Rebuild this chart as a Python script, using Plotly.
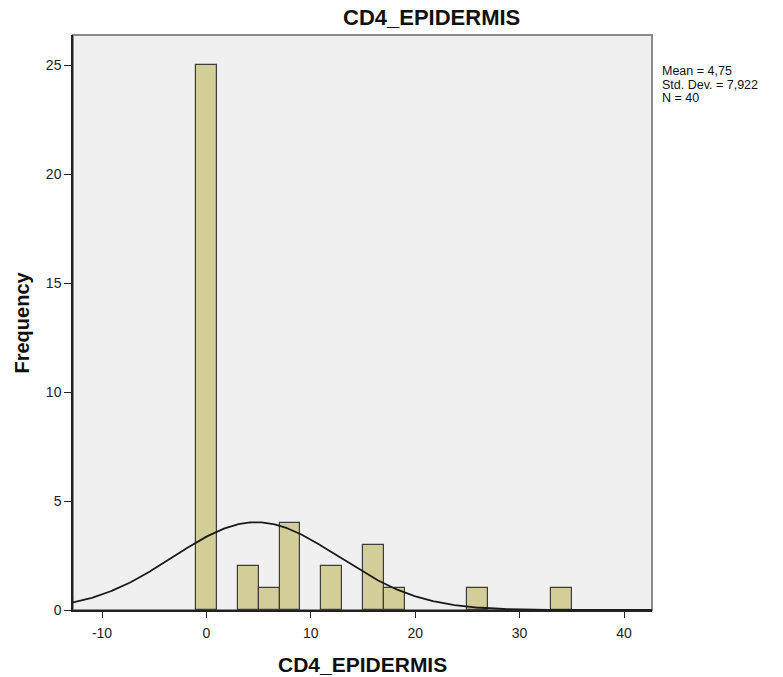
import numpy as np
import plotly.graph_objects as go

# Histogram bins (centers, width 2) and counts
bin_centers = [0, 4, 6, 8, 12, 16, 18, 26, 34]
counts = [25, 2, 1, 4, 2, 3, 1, 1, 1]
bin_width = 2

# Summary statistics shown in the chart
mean_text = "4,75"
std_text = "7,922"
mean_val = 4.75
std_val = 7.922
n_val = 40

x_ticks = [-10, 0, 10, 20, 30, 40]
x_ticktext = ["-10", "0", "10", "20", "30", "40"]
y_ticks = [0, 5, 10, 15, 20, 25]

x_range = [-12.78, 42.68]
y_range = [0, 26.4]

# Fitted normal curve (scaled to counts)
xs = np.linspace(x_range[0], x_range[1], 400)
ys = n_val * bin_width / (std_val * np.sqrt(2 * np.pi)) * np.exp(-0.5 * ((xs - mean_val) / std_val) ** 2)

fam = "Liberation Sans, Arial, sans-serif"

L, R, T, B = 73, 131, 35, 67
W, H = 783, 677
pw = W - L - R

fig = go.Figure()
fig.add_trace(go.Bar(
    x=bin_centers, y=counts, width=bin_width,
    marker=dict(color="#D3CE97", line=dict(color="#3C3C3C", width=1.2)),
    showlegend=False, hoverinfo="x+y",
))
fig.add_trace(go.Scatter(
    x=xs, y=ys, mode="lines",
    line=dict(color="#1A1A1A", width=1.8),
    showlegend=False, hoverinfo="skip",
))

stat_lines = [f"Mean = {mean_text}", f"Std. Dev. = {std_text}", f"N = {n_val}"]
stat_ann = [
    dict(text=t, xref="paper", yref="paper", x=1, y=1,
         xshift=8, yshift=-36 - 13.5 * i, xanchor="left", yanchor="middle", showarrow=False,
         font=dict(family=fam, size=12.5, color="#111111"))
    for i, t in enumerate(stat_lines)
]

fig.update_layout(
    width=W, height=H,
    margin=dict(l=L, r=R, t=T, b=B),
    paper_bgcolor="white", plot_bgcolor="#F0F0F0",
    bargap=0,
    font=dict(family=fam, size=14, color="#222222"),
    xaxis=dict(
        range=x_range, tickvals=x_ticks, ticktext=x_ticktext, ticks="outside", ticklen=6,
        tickcolor="#222222", showline=True, linecolor="#222222", linewidth=1.5,
        showgrid=False, zeroline=False, ticklabelstandoff=3,
        tickfont=dict(family=fam, size=14, color="#222222"),
    ),
    yaxis=dict(
        range=y_range, tickvals=y_ticks, ticks="outside", ticklen=7,
        tickcolor="#222222", showline=True, linecolor="#222222", linewidth=1.5,
        showgrid=False, zeroline=False,
        tickfont=dict(family=fam, size=14, color="#222222"),
    ),
    shapes=[dict(type="rect", xref="paper", yref="paper", x0=0, y0=0, x1=1, y1=1,
                 line=dict(color="#8A8A8A", width=2), layer="below")],
    annotations=[
        dict(text="<b>CD4_EPIDERMIS</b>", xref="paper", yref="paper", x=(431 - L) / pw, y=1,
             yshift=18, xanchor="center", yanchor="middle", showarrow=False,
             font=dict(family=fam, size=22, color="#111111")),
        dict(text="<b>CD4_EPIDERMIS</b>", xref="paper", yref="paper", x=0.5, y=0,
             yshift=-54, xanchor="center", yanchor="middle", showarrow=False,
             font=dict(family=fam, size=21, color="#111111")),
        dict(text="<b>Frequency</b>", xref="paper", yref="paper", x=0, y=0.5,
             xshift=-52, xanchor="center", yanchor="middle", textangle=-90, showarrow=False,
             font=dict(family=fam, size=20, color="#111111")),
    ] + stat_ann,
)

fig.write_html("out.html")
